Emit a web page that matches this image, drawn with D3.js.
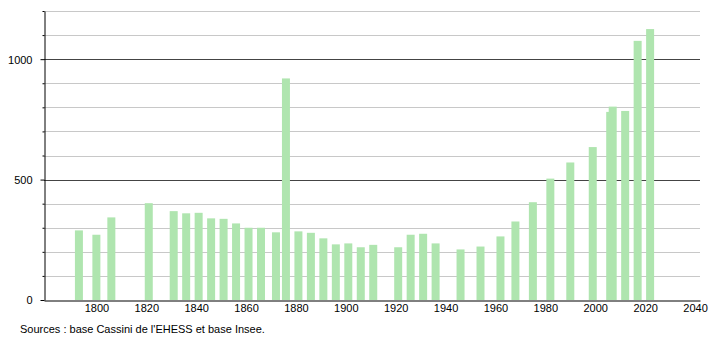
<!DOCTYPE html>
<html>
<head>
<meta charset="utf-8">
<script src="https://cdn.jsdelivr.net/npm/d3@7"></script>
<style>
	body { margin: 0; background: #fff; }
	svg { font-family: "Liberation Sans", Arial, sans-serif; }
</style>
</head>
<body>
<div class="chart"></div>
<script>
var width = 710;
var height = 340;

// census years and population
var years = [1793, 1800, 1806, 1821, 1831, 1836, 1841, 1846, 1851, 1856,
	1861, 1866, 1872, 1876, 1881, 1886, 1891, 1896, 1901, 1906,
	1911, 1921, 1926, 1931, 1936, 1946, 1954, 1962, 1968, 1975,
	1982, 1990, 1999, 2006, 2007, 2012, 2017, 2022];
var population = [289, 271, 343, 402, 369, 360, 362, 339, 337, 318,
	300, 300, 281, 920, 285, 279, 256, 231, 235, 219,
	229, 219, 271, 275, 235, 210, 222, 264, 326, 406,
	504, 571, 635, 781, 803, 785, 1076, 1125];
var xTicks = [1800, 1820, 1840, 1860, 1880, 1900, 1920, 1940, 1960, 1980, 2000, 2020, 2040];
var yTicks = [0, 500, 1000];
var source = "Sources : base Cassini de l'EHESS et base Insee.";

var plot_left = 44, plot_right = 700, plot_top = 11, plot_bottom = 300;
var bar_width = 8;

var svg = d3.select(".chart").append("svg")
	.attr("width", width)
	.attr("height", height);

var xScale = d3.scaleLinear()
	.domain([1779, 2042])
	.range([plot_left, plot_right]);
var yScale = d3.scaleLinear()
	.domain([0, 1200])
	.range([plot_bottom, plot_top]);

// grid lines every 100, darker every 500
var grid = d3.range(100, 1201, 100);
svg.append("g").selectAll("line")
	.data(grid)
	.enter().append("line")
	.attr("x1", plot_left)
	.attr("x2", plot_right)
	.attr("y1", function (d) { return Math.round(yScale(d)) + 0.5; })
	.attr("y2", function (d) { return Math.round(yScale(d)) + 0.5; })
	.attr("stroke", function (d) { return d % 500 == 0 ? "#444" : "#c8c8c8"; })
	.attr("stroke-width", 1);

// bars
svg.append("g").selectAll("rect")
	.data(years)
	.enter().append("rect")
	.attr("x", function (d) { return xScale(d) - bar_width / 2; })
	.attr("y", function (d, i) { return yScale(population[i]); })
	.attr("width", bar_width)
	.attr("height", function (d, i) { return plot_bottom - yScale(population[i]); })
	.attr("fill", "#afe5af");

// y axis
var yAxis = d3.axisLeft(yScale)
	.tickValues(d3.range(0, 1201, 100))
	.tickSize(0)
	.tickFormat("");
var yg = svg.append("g")
	.attr("transform", "translate(" + (plot_left + 0.5) + ",0)")
	.call(yAxis);
yg.select(".domain").attr("stroke", "#000");
yg.selectAll(".tick line")
	.attr("x2", function (d) { return d % 500 == 0 ? -4 : -2; })
	.attr("stroke", "#000");
yg.selectAll(".tick")
	.filter(function (d) { return yTicks.indexOf(d) >= 0; })
	.append("text")
	.attr("x", -12)
	.attr("dy", "0.35em")
	.attr("text-anchor", "end")
	.attr("fill", "#000")
	.style("font-size", "11px")
	.text(function (d) { return d; });

// x axis
var xAxis = d3.axisBottom(xScale)
	.tickValues(xTicks)
	.tickSize(0)
	.tickPadding(4)
	.tickFormat(d3.format("d"));
var xg = svg.append("g")
	.attr("transform", "translate(0," + (plot_bottom + 0.5) + ")")
	.call(xAxis);
xg.select(".domain").attr("stroke", "#000");
xg.selectAll("text")
	.attr("fill", "#000")
	.style("font-size", "11px")
	.style("font-family", "\"Liberation Sans\", Arial, sans-serif");

svg.append("text")
	.attr("x", 20)
	.attr("y", 333)
	.attr("fill", "#000")
	.style("font-size", "11px")
	.text(source);
</script>
</body>
</html>
